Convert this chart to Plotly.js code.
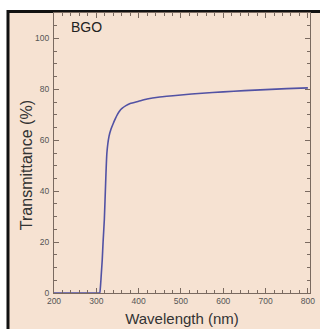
<!DOCTYPE html>
<html>
<head>
<meta charset="utf-8">
<script src="https://cdn.plot.ly/plotly-3.0.1.min.js"></script>
<style>
  html, body { margin: 0; padding: 0; background: #ffffff; }
  #chart { width: 320px; height: 329px; }
</style>
</head>
<body>
<div id="chart"></div>
<script>
// Data
const wavelength = [200, 250, 300, 305, 308, 310, 312, 314, 316, 319, 322, 325, 330, 335, 340, 345, 350, 356, 360, 370, 380, 400, 420, 450, 500, 550, 600, 650, 700, 750, 800];
const transmittance = [0, 0, 0, 0, 0, 3, 8, 13, 20, 29, 43, 55, 61.5, 64.5, 66.6, 68.5, 70.2, 71.7, 72.4, 73.6, 74.4, 75.3, 76.2, 77, 77.8, 78.5, 79, 79.5, 79.9, 80.3, 80.6];
const xTicks = [200, 300, 400, 500, 600, 700, 800];
const yTicks = [0, 20, 40, 60, 80, 100];
const sampleLabel = "BGO";

const axisColor = "#7a6a60";
const tickFont = { family: "Arial, Liberation Sans, sans-serif", size: 8.5, color: "#555555" };

const trace = {
  x: wavelength,
  y: transmittance,
  type: "scatter",
  mode: "lines",
  line: { color: "#5252a4", width: 1.6, shape: "spline", smoothing: 0.5 },
  hoverinfo: "skip"
};

const layout = {
  width: 320,
  height: 329,
  margin: { l: 54, r: 10, t: 13, b: 36, pad: 0 },
  paper_bgcolor: "#ffffff",
  plot_bgcolor: "rgba(0,0,0,0)",
  showlegend: false,
  xaxis: {
    range: [200, 805],
    tickmode: "array",
    tickvals: xTicks,
    ticktext: xTicks.map(String),
    ticks: "inside",
    ticklen: 5,
    tickwidth: 1,
    tickcolor: axisColor,
    showline: true,
    linecolor: axisColor,
    linewidth: 1,
    mirror: "ticks",
    showgrid: false,
    zeroline: false,
    tickfont: tickFont,
    minor: { ticks: "inside", ticklen: 3, dtick: 20, tick0: 200, tickcolor: axisColor, showgrid: false },
    title: { text: "Wavelength (nm)", font: { family: "Arial, Liberation Sans, sans-serif", size: 15, color: "#333333" }, standoff: 8 }
  },
  yaxis: {
    range: [0, 110],
    tickmode: "array",
    tickvals: yTicks,
    ticktext: yTicks.map(String),
    ticks: "inside",
    ticklen: 5,
    tickwidth: 1,
    tickcolor: axisColor,
    showline: true,
    linecolor: axisColor,
    linewidth: 1,
    mirror: "ticks",
    showgrid: false,
    zeroline: false,
    tickfont: tickFont,
    ticklabelstandoff: 2,
    minor: { ticks: "inside", ticklen: 3, dtick: 5, tick0: 0, tickcolor: axisColor, showgrid: false }
  },
  shapes: [
    {
      type: "rect", xref: "paper", yref: "paper", layer: "below",
      x0: -0.1797, x1: 1.078, y0: -0.168, y1: 1.0054,
      fillcolor: "#f6e2d2",
      line: { color: "#111111", width: 3 }
    }
  ],
  annotations: [
    {
      text: "Transmittance (%)", textangle: -90,
      xref: "paper", yref: "paper", x: -0.109, y: 0.457,
      xanchor: "center", yanchor: "middle", showarrow: false,
      font: { family: "Arial, Liberation Sans, sans-serif", size: 16, color: "#333333" }
    },
    {
      text: sampleLabel,
      xref: "paper", yref: "paper", x: 0.127, y: 0.95,
      xanchor: "center", yanchor: "middle", showarrow: false,
      font: { family: "Arial, Liberation Sans, sans-serif", size: 14, color: "#222222" }
    }
  ]
};

Plotly.newPlot("chart", [trace], layout, { staticPlot: true, displayModeBar: false });
</script>
</body>
</html>
